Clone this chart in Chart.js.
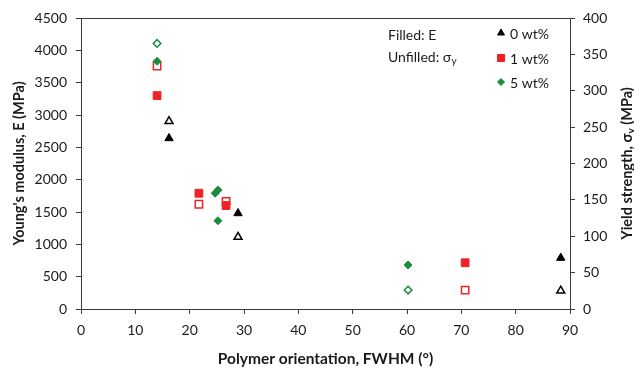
<!DOCTYPE html>
<html><head><meta charset="utf-8">
<script src="https://cdn.jsdelivr.net/npm/chart.js@4/dist/chart.umd.min.js"></script>
<style>html,body{margin:0;padding:0;background:#fff}#wrap{width:634px;height:368px}</style>
</head><body><div id="wrap"><canvas id="c" width="634" height="368"></canvas></div>
<script>
// ---- data ----
const seriesNames = ['0 wt%', '1 wt%', '5 wt%'];
// 0 wt%
const fwhm0 = [16.2, 28.9, 88.3];
const modulus0 = [2640, 1480, 790];        // filled, E (MPa)
const yield0 = [258, 99, 25];              // unfilled, sigma_y (MPa)
// 1 wt%
const fwhm1 = [14.0, 21.7, 26.7, 70.7];
const modulus1 = [3300, 1790, 1600, 715];
const yield1 = [334, 144, 148, 26];
// 5 wt%
const fwhm5E = [14.0, 24.7, 25.2, 25.2, 60.2];
const modulus5 = [3830, 1790, 1840, 1365, 680];
const fwhm5Y = [14.0, 60.2];
const yield5 = [365, 26];
// axes
const xTickMin = 0, xTickMax = 90, xTickStep = 10;
const eTickMin = 0, eTickMax = 4500, eTickStep = 500;
const yTickMin = 0, yTickMax = 400, yTickStep = 50;

const pts = (xs, ys) => xs.map((x, i) => ({x, y: ys[i]}));

const BLACK = '#000000', RED = '#ec2227', GREEN = '#1a8c3e';
const AXIS = '#3a3a3a', TEXT = '#1a1a1a';
const FONT = 'Lato';

const datasets = [
  {label: seriesNames[2] + ' E', data: pts(fwhm5E, modulus5), yAxisID: 'y', pointStyle: 'rectRot', radius: 4,
   backgroundColor: GREEN, borderColor: GREEN, borderWidth: 1},
  {label: seriesNames[2] + ' σy', data: pts(fwhm5Y, yield5), yAxisID: 'y1', pointStyle: 'rectRot', radius: 3.8,
   backgroundColor: '#ffffff', borderColor: GREEN, borderWidth: 1.5},
  {label: seriesNames[1] + ' E', data: pts(fwhm1, modulus1), yAxisID: 'y', pointStyle: 'rect', radius: 5.5,
   backgroundColor: RED, borderColor: RED, borderWidth: 1},
  {label: seriesNames[1] + ' σy', data: pts(fwhm1, yield1), yAxisID: 'y1', pointStyle: 'rect', radius: 5.2,
   backgroundColor: '#ffffff', borderColor: RED, borderWidth: 1.5},
  {label: seriesNames[0] + ' E', data: pts(fwhm0, modulus0), yAxisID: 'y', pointStyle: 'triangle', radius: 4.8,
   backgroundColor: BLACK, borderColor: BLACK, borderWidth: 1},
  {label: seriesNames[0] + ' σy', data: pts(fwhm0, yield0), yAxisID: 'y1', pointStyle: 'triangle', radius: 4.6,
   backgroundColor: '#ffffff', borderColor: BLACK, borderWidth: 1.5},
];
datasets.forEach(d => { d.showLine = false; d.pointRadius = d.radius; d.pointHoverRadius = d.radius; });

const overlay = {
  id: 'overlay',
  afterDraw(chart) {
    const {ctx, chartArea: a} = chart;
    ctx.save();
    // top frame line
    ctx.strokeStyle = AXIS; ctx.lineWidth = 1;
    ctx.beginPath(); ctx.moveTo(a.left, Math.round(a.top) + 0.5); ctx.lineTo(a.right, Math.round(a.top) + 0.5); ctx.stroke();

    // note text
    ctx.fillStyle = TEXT; ctx.textBaseline = 'middle'; ctx.textAlign = 'left';
    ctx.font = '14px ' + FONT;
    const nx = a.left + 307;
    ctx.fillText('Filled: E', nx, a.top + 17);
    const u = 'Unfilled: σ';
    ctx.fillText(u, nx, a.top + 39);
    const uw = ctx.measureText(u).width;
    ctx.font = '10px ' + FONT;
    ctx.fillText('y', nx + uw + 0.5, a.top + 43);

    // legend
    const lx = a.left + 420, tx = a.left + 429;
    const rows = [
      {style: 'triangle', r: 4, color: BLACK, text: seriesNames[0], y: a.top + 15},
      {style: 'rect', r: 5, color: RED, text: seriesNames[1], y: a.top + 40},
      {style: 'rectRot', r: 3.5, color: GREEN, text: seriesNames[2], y: a.top + 64},
    ];
    rows.forEach(r => {
      ctx.fillStyle = r.color; ctx.strokeStyle = r.color;
      Chart.helpers.drawPoint(ctx, {pointStyle: r.style, radius: r.r, borderWidth: 0.5, rotation: 0}, lx, r.y);
      ctx.fillStyle = TEXT; ctx.font = '14px ' + FONT; ctx.textAlign = 'left'; ctx.textBaseline = 'middle';
      ctx.fillText(r.text, tx, r.y + 1);
    });

    // right axis title (rotated, with subscript)
    ctx.translate(a.right + 57, (a.top + a.bottom) / 2);
    ctx.rotate(-Math.PI / 2);
    ctx.fillStyle = TEXT; ctx.textBaseline = 'middle'; ctx.textAlign = 'left';
    const p1 = 'Yield strength, σ', p2 = 'y', p3 = ' (MPa)';
    ctx.font = 'bold 14.5px ' + FONT; const w1 = ctx.measureText(p1).width, w3 = ctx.measureText(p3).width;
    ctx.font = 'bold 10px ' + FONT; const w2 = ctx.measureText(p2).width;
    const total = w1 + w2 + w3;
    let x0 = -total / 2;
    ctx.font = 'bold 14.5px ' + FONT; ctx.fillText(p1, x0, 0);
    ctx.font = 'bold 10px ' + FONT; ctx.fillText(p2, x0 + w1, 4);
    ctx.font = 'bold 14.5px ' + FONT; ctx.fillText(p3, x0 + w1 + w2, 0);
    ctx.restore();
  }
};

const tickFont = {family: FONT, size: 14};
const plain = v => String(v);
new Chart(document.getElementById('c'), {
  type: 'scatter',
  data: {datasets},
  options: {
    responsive: false, animation: false, devicePixelRatio: 1, events: [],
    layout: {padding: {top: 18, left: 0, right: 0, bottom: 0}},
    plugins: {legend: {display: false}, tooltip: {enabled: false}},
    scales: {
      x: {
        type: 'linear', min: xTickMin, max: xTickMax,
        ticks: {stepSize: xTickStep, color: TEXT, font: tickFont, padding: 8, callback: plain},
        grid: {drawOnChartArea: false, tickLength: 5, color: AXIS},
        border: {color: AXIS, width: 1},
        title: {display: true, text: 'Polymer orientation, FWHM (°)', color: TEXT,
                font: {family: FONT, size: 15.5, weight: 'bold'}, padding: {top: 0, bottom: 0}},
        afterFit: s => { s.height = 59; }
      },
      y: {
        position: 'left', min: eTickMin, max: eTickMax,
        ticks: {stepSize: eTickStep, color: TEXT, font: tickFont, padding: 9, callback: plain},
        grid: {drawOnChartArea: false, tickLength: 5, color: AXIS},
        border: {color: AXIS, width: 1},
        title: {display: true, text: "Young's modulus, E (MPa)", color: TEXT,
                font: {family: FONT, size: 14.5, weight: 'bold'}, padding: {top: 11, bottom: 0}},
        afterFit: s => { s.width = 81; }
      },
      y1: {
        position: 'right', min: yTickMin, max: yTickMax,
        ticks: {stepSize: yTickStep, color: TEXT, font: tickFont, padding: 8, callback: plain},
        grid: {drawOnChartArea: false, tickLength: 5, color: AXIS},
        border: {color: AXIS, width: 1},
        afterFit: s => { s.width = 64; }
      }
    }
  },
  plugins: [overlay]
});
</script>
</body></html>
